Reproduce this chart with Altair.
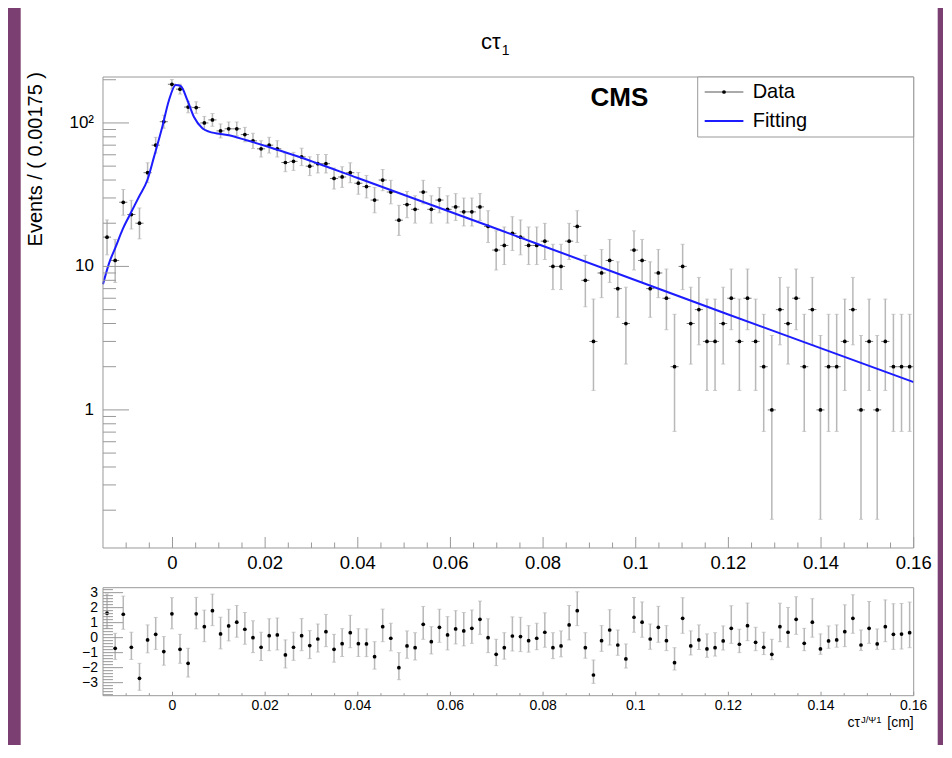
import math
import altair as alt
import pandas as pd

# ---------------- data ----------------
X_MIN, X_MAX = -0.015, 0.16
BIN_WIDTH = 0.00175
Y_MIN, Y_MAX = 0.109, 209.0
PULL_MIN, PULL_MAX = -3.87, 3.33

counts = [16, 11, 28, 23, 20, 45, 70, 102, 186, 172,
          129, 128, 100, 105, 88, 91, 91, 83, 75, 66,
          70, 66, 53, 54, 58, 50, 52, 52, 41, 42,
          45, 38, 36, 29, 40, 33, 21, 27, 25, 33,
          25, 29, 25, 26, 24, 24, 26, 19, 13, 14,
          17, 16, 14, 14, 15, 10, 10, 15, 19, 8,
          3, 9, 11, 7, 4, 13, 11, 7, 9, 6,
          2, 10, 4, 5, 3, 3, 4, 6, 3, 6,
          3, 2, 1, 5, 4, 6, 2, 5, 1, 2,
          2, 3, 5, 1, 3, 1, 3, 2, 2, 2]

pulls = [1.63, -0.71, 1.56, -0.64, -2.71, -0.15, 0.22, -0.93, 1.59, -0.78,
         -1.71, 1.59, 0.73, 1.80, 0.25, 0.78, 1.03, 0.56, 0.00, -0.64,
         0.13, 0.18, -1.15, -0.64, 0.13, -0.53, -0.09, 0.40, -0.78, -0.40,
         0.33, -0.40, -0.42, -1.27, 0.73, -0.04, -2.00, -0.55, -0.67, 0.89,
         -0.27, 0.69, 0.18, 0.58, 0.45, 0.62, 1.22, 0.00, -1.11, -0.67,
         0.11, 0.07, -0.20, -0.04, 0.36, -0.67, -0.55, 0.85, 1.80, -0.67,
         -2.49, -0.20, 0.51, -0.49, -1.42, 1.36, 1.03, -0.09, 0.69, -0.20,
         -1.67, 1.29, -0.55, -0.15, -0.75, -0.67, -0.22, 0.62, -0.44, 0.80,
         -0.31, -0.64, -1.11, 0.73, 0.36, 1.22, -0.38, 1.03, -0.75, -0.22,
         -0.15, 0.40, 1.29, -0.49, 0.62, -0.42, 0.73, 0.22, 0.24, 0.33]

fit_x = [-0.015, -0.0137, -0.01226, -0.01081, -0.00939, -0.00723, -0.00542,
         -0.00399, -0.00218, -0.00076, 0.00069, 0.00177, 0.00322, 0.00464,
         0.00645, 0.00788, 0.0122, 0.0158, 0.0208, 0.0266, 0.04, 0.0797,
         0.1194, 0.16]
fit_y = [7.5, 10.5, 13.7, 18.0, 22.3, 30.6, 40.0, 58.0, 94.5, 144.0, 184.0,
         181.0, 144.0, 110.0, 92.0, 87.0, 82.0, 76.0, 68.0, 59.0, 41.3, 14.0,
         4.7, 1.56]

x_major_ticks = [0, 0.02, 0.04, 0.06, 0.08, 0.1, 0.12, 0.14, 0.16]
x_tick_labels = ["0", "0.02", "0.04", "0.06", "0.08", "0.1", "0.12", "0.14", "0.16"]
x_minor_ticks = [round(k * 0.005, 3) for k in range(-2, 32) if k % 4 != 0]
y_major_ticks = [1, 10, 100]
y_tick_labels = ["1", "10", "10²"]
y_minor_ticks = [0.2, 0.3, 0.4, 0.5, 0.6, 0.7, 0.8, 0.9,
                 2, 3, 4, 5, 6, 7, 8, 9,
                 20, 30, 40, 50, 60, 70, 80, 90, 200]
pull_major_ticks = [-3, -2, -1, 0, 1, 2, 3]
pull_tick_labels = ["−3", "−2", "−1", "0", "1", "2", "3"]
pull_minor_ticks = [round(k * 0.2, 1) for k in range(-19, 17) if k % 5 != 0]

# ---------------- Poisson (68%) intervals of the counts ----------------
ALPHA = 0.158655


def pois_cdf(k, mu):
    term = math.exp(-mu)
    s = term
    for i in range(1, k + 1):
        term *= mu / i
        s += term
    return s


def bisect(f, a, b):
    for _ in range(80):
        m = 0.5 * (a + b)
        if f(m) > 0:
            a = m
        else:
            b = m
    return 0.5 * (a + b)


def poisson_interval(n):
    lo = 0.0 if n == 0 else bisect(lambda mu: pois_cdf(n - 1, mu) - (1 - ALPHA), 0.0, n)
    hi = bisect(lambda mu: pois_cdf(n, mu) - ALPHA, n, n + 10 * math.sqrt(n) + 10)
    return lo, hi


rows = []
for i, (n, p) in enumerate(zip(counts, pulls)):
    c = X_MIN + BIN_WIDTH * (i + 0.5)
    lo, hi = poisson_interval(n)
    elo, ehi = n - lo, hi - n
    if p >= 0:
        plo, phi = p - 1.0, p + ehi / elo
    else:
        plo, phi = p - elo / ehi, p + 1.0
    rows.append(dict(x=c, xlo=c - BIN_WIDTH / 2, xhi=c + BIN_WIDTH / 2,
                     n=n, lo=lo, hi=hi, pull=p, plo=plo, phi=phi))
df = pd.DataFrame(rows)
fit_df = pd.DataFrame({"x": fit_x, "y": fit_y})
xlab_df = pd.DataFrame({"v": x_major_ticks, "t": x_tick_labels})
ylab_df = pd.DataFrame({"v": y_major_ticks, "t": y_tick_labels})
plab_df = pd.DataFrame({"v": pull_major_ticks, "t": pull_tick_labels})

# ---------------- style ----------------
FONT = "Liberation Sans"
GRAY = "#999999"
ERR = "#b8b8b8"
BLUE = "#1c1cff"
W = 810.7
H_TOP = 471
H_BOT = 108
one = pd.DataFrame({"a": [0]})

xs = alt.Scale(domain=[X_MIN, X_MAX], nice=False, zero=False)
ys = alt.Scale(type="log", domain=[Y_MIN, Y_MAX], nice=False)
ps = alt.Scale(domain=[PULL_MIN, PULL_MAX], nice=False, zero=False)


def X(field):
    return alt.X(field, scale=xs, axis=None)


def YT(field):
    return alt.Y(field, scale=ys, axis=None)


def YP(field):
    return alt.Y(field, scale=ps, axis=None)


# ---------------- top panel ----------------
bg = alt.Chart(one).mark_rect(color="white").encode(
    x=alt.value(-82.3), x2=alt.value(834.7), y=alt.value(-69), y2=alt.value(668))

vbars = alt.Chart(df).mark_rule(color=ERR, strokeWidth=1.5).encode(
    x=X("x:Q"), y=YT("lo:Q"), y2="hi:Q")
caps_lo = alt.Chart(df).mark_tick(color=ERR, orient="horizontal", size=4, thickness=1).encode(
    x=X("x:Q"), y=YT("lo:Q"))
caps_hi = alt.Chart(df).mark_tick(color=ERR, orient="horizontal", size=4, thickness=1).encode(
    x=X("x:Q"), y=YT("hi:Q"))
hbars = alt.Chart(df).mark_rule(color="#777777", strokeWidth=1).encode(
    x=X("xlo:Q"), x2="xhi:Q", y=YT("n:Q"))
points = alt.Chart(df).mark_circle(color="black", size=14, opacity=1).encode(
    x=X("x:Q"), y=YT("n:Q"))
fit_line = alt.Chart(fit_df).mark_line(color=BLUE, strokeWidth=2, interpolate="monotone").encode(
    x=X("x:Q"), y=YT("y:Q"))

ytm = alt.Chart(pd.DataFrame({"v": y_major_ticks})).mark_rule(color=GRAY).encode(
    y=YT("v:Q"), x=alt.value(0), x2=alt.value(26))
ytn = alt.Chart(pd.DataFrame({"v": y_minor_ticks})).mark_rule(color=GRAY).encode(
    y=YT("v:Q"), x=alt.value(0), x2=alt.value(13))
xtm = alt.Chart(pd.DataFrame({"v": x_major_ticks})).mark_rule(color=GRAY).encode(
    x=X("v:Q"), y=alt.value(H_TOP), y2=alt.value(H_TOP - 11))
xtn = alt.Chart(pd.DataFrame({"v": x_minor_ticks})).mark_rule(color=GRAY).encode(
    x=X("v:Q"), y=alt.value(H_TOP), y2=alt.value(H_TOP - 5.5))
frame_top = alt.Chart(one).mark_rect(fill="transparent", stroke=GRAY, strokeWidth=1).encode(
    x=alt.value(0), x2=alt.value(W), y=alt.value(0), y2=alt.value(H_TOP))

xlab_top = alt.Chart(xlab_df).mark_text(font=FONT, fontSize=18.5, align="center",
                                        baseline="top", color="black").encode(
    x=X("v:Q"), y=alt.value(H_TOP + 6.5), text="t:N")
ylab_top = alt.Chart(ylab_df).mark_text(font=FONT, fontSize=17, align="right",
                                        baseline="middle", color="black").encode(
    y=YT("v:Q"), x=alt.value(-9), text="t:N")
ytitle = alt.Chart(one).mark_text(text="Events / ( 0.00175 )", font=FONT, fontSize=20,
                                  angle=270, align="right", baseline="middle",
                                  color="black").encode(
    x=alt.value(-67.3), y=alt.value(-5))

# legend + labels
leg_box = alt.Chart(one).mark_rect(fill="white", stroke=GRAY, strokeWidth=1).encode(
    x=alt.value(594.7), x2=alt.value(W), y=alt.value(0), y2=alt.value(60))
leg_data_line = alt.Chart(one).mark_rule(color="#555555", strokeWidth=1).encode(
    x=alt.value(601.7), x2=alt.value(640.4), y=alt.value(15))
leg_data_dot = alt.Chart(one).mark_circle(color="black", size=14, opacity=1).encode(
    x=alt.value(621), y=alt.value(15))
leg_fit_line = alt.Chart(one).mark_rule(color=BLUE, strokeWidth=2).encode(
    x=alt.value(601.7), x2=alt.value(640.4), y=alt.value(44))
leg_text = alt.Chart(pd.DataFrame({"t": ["Data", "Fitting"], "yy": [15, 44]})).mark_text(
    font=FONT, fontSize=20, align="left", baseline="middle", color="black").encode(
    x=alt.value(649.7), y=alt.Y("yy:Q", scale=None, axis=None), text="t:N")
cms = alt.Chart(one).mark_text(text="CMS", font=FONT, fontSize=26, fontWeight="bold",
                               align="center", baseline="alphabetic", color="black").encode(
    x=alt.value(516.4), y=alt.value(29))
title_main = alt.Chart(one).mark_text(text="cτ", font=FONT, fontSize=22, align="right",
                                      baseline="alphabetic", color="black").encode(
    x=alt.value(397.7), y=alt.value(-28))
title_sub = alt.Chart(one).mark_text(text="1", font=FONT, fontSize=14, align="left",
                                     baseline="alphabetic", color="black").encode(
    x=alt.value(398.7), y=alt.value(-22))

top = alt.layer(bg, vbars, caps_lo, caps_hi, hbars, points, fit_line,
                ytm, ytn, xtm, xtn, frame_top, xlab_top, ylab_top, ytitle,
                leg_box, leg_data_line, leg_data_dot, leg_fit_line, leg_text,
                cms, title_main, title_sub).properties(width=W, height=H_TOP)

# ---------------- pull panel ----------------
p_bars = alt.Chart(df).mark_rule(color=ERR, strokeWidth=1.5).encode(
    x=X("x:Q"), y=YP("plo:Q"), y2="phi:Q")
p_caps_lo = alt.Chart(df).mark_tick(color=ERR, orient="horizontal", size=4, thickness=1).encode(
    x=X("x:Q"), y=YP("plo:Q"))
p_caps_hi = alt.Chart(df).mark_tick(color=ERR, orient="horizontal", size=4, thickness=1).encode(
    x=X("x:Q"), y=YP("phi:Q"))
p_points = alt.Chart(df).mark_circle(color="black", size=14, opacity=1).encode(
    x=X("x:Q"), y=YP("pull:Q"))
pytm = alt.Chart(pd.DataFrame({"v": pull_major_ticks})).mark_rule(color=GRAY).encode(
    y=YP("v:Q"), x=alt.value(0), x2=alt.value(20))
pytn = alt.Chart(pd.DataFrame({"v": pull_minor_ticks})).mark_rule(color=GRAY).encode(
    y=YP("v:Q"), x=alt.value(0), x2=alt.value(10))
pxtm = alt.Chart(pd.DataFrame({"v": x_major_ticks})).mark_rule(color=GRAY).encode(
    x=X("v:Q"), y=alt.value(H_BOT), y2=alt.value(H_BOT - 4))
pxtn = alt.Chart(pd.DataFrame({"v": x_minor_ticks})).mark_rule(color=GRAY).encode(
    x=X("v:Q"), y=alt.value(H_BOT), y2=alt.value(H_BOT - 2.5))
frame_bot = alt.Chart(one).mark_rect(fill="transparent", stroke=GRAY, strokeWidth=1).encode(
    x=alt.value(0), x2=alt.value(W), y=alt.value(0), y2=alt.value(H_BOT))
xlab_bot = alt.Chart(xlab_df).mark_text(font=FONT, fontSize=14, align="center",
                                        baseline="top", color="black").encode(
    x=X("v:Q"), y=alt.value(H_BOT + 3), text="t:N")
ylab_bot = alt.Chart(plab_df).mark_text(font=FONT, fontSize=14, align="right",
                                        baseline="middle", color="black").encode(
    y=YP("v:Q"), x=alt.value(-5), text="t:N")
xt_ct = alt.Chart(one).mark_text(text="cτ", font=FONT, fontSize=14, align="left",
                                 baseline="alphabetic", color="black").encode(
    x=alt.value(744.4), y=alt.value(139.3))
xt_sup = alt.Chart(one).mark_text(text="J/Ψ1", font=FONT, fontSize=9.5, align="left",
                                  baseline="alphabetic", color="black").encode(
    x=alt.value(758), y=alt.value(135.5))
xt_cm = alt.Chart(one).mark_text(text="[cm]", font=FONT, fontSize=14, align="right",
                                 baseline="alphabetic", color="black").encode(
    x=alt.value(W), y=alt.value(139.3))

bottom = alt.layer(p_bars, p_caps_lo, p_caps_hi, p_points, pytm, pytn, pxtm, pxtn,
                   frame_bot, xlab_bot, ylab_bot, xt_ct, xt_sup, xt_cm).properties(
    width=W, height=H_BOT)

chart = alt.vconcat(top, bottom, spacing=39.7, bounds="flush").properties(
    padding={"left": 12, "right": 5, "top": 0, "bottom": 0},
    background="#7b3f72",
).configure_view(stroke="transparent", strokeWidth=0)

chart.save("out.html", embed_options={"renderer": "svg", "actions": False})
